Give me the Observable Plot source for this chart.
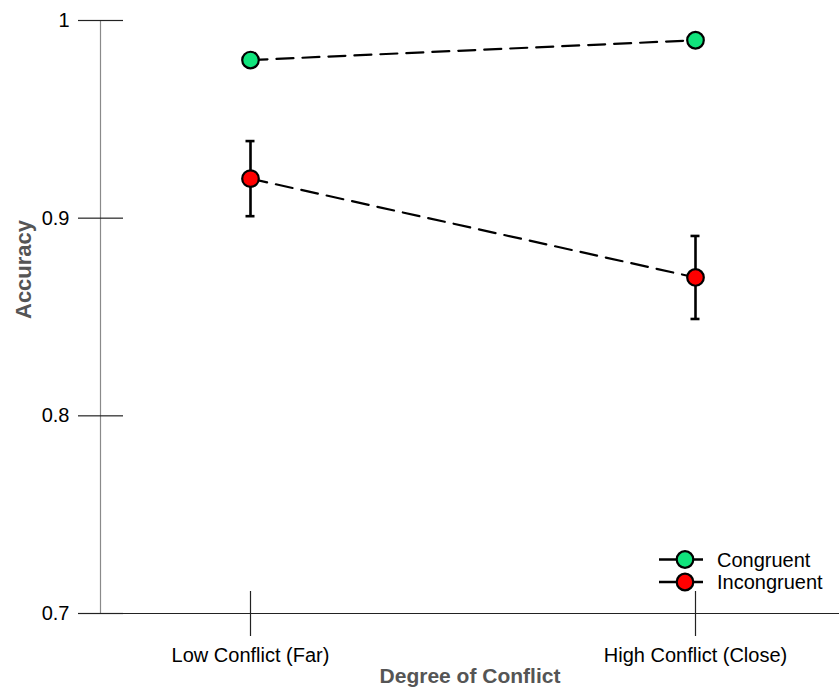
<!DOCTYPE html>
<html>
<head>
<meta charset="utf-8">
<script src="https://cdn.jsdelivr.net/npm/d3@7"></script>
<script src="https://cdn.jsdelivr.net/npm/@observablehq/plot@0.6"></script>
<style>
  html, body { margin: 0; padding: 0; background: #fff; }
  #chart { position: relative; width: 839px; height: 691px; }
</style>
</head>
<body>
<div id="chart"></div>
<script>
// ---- data ----
const categories = ["Low Conflict (Far)", "High Conflict (Close)"];
const series = ["Congruent", "Incongruent"];
const congruent = [0.98, 0.99];
const congruentLow = [0.98, 0.99];
const congruentHigh = [0.98, 0.99];
const incongruent = [0.92, 0.87];
const incongruentLow = [0.901, 0.849];
const incongruentHigh = [0.939, 0.891];
const yTicks = [0.7, 0.8, 0.9, 1];
const yDomain = [0.7, 1];
const colors = ["#10e47c", "#ff0000"];
const yLabel = "Accuracy";
const xLabel = "Degree of Conflict";

const values = [congruent, incongruent];
const lows = [congruentLow, incongruentLow];
const highs = [congruentHigh, incongruentHigh];

const rows = series.flatMap((s, si) => categories.map((c, ci) => ({
  series: s, category: c, value: values[si][ci], low: lows[si][ci], high: highs[si][ci]
})));
const errRows = rows.filter(d => d.high > d.low);

const font = "'Liberation Sans', Arial, Helvetica, sans-serif";

const plot = Plot.plot({
  width: 839,
  height: 691,
  marginLeft: 100,
  marginRight: 0,
  marginTop: 20,
  marginBottom: 78,
  style: { fontFamily: font, fontSize: "20px", color: "#000", background: "#fff", overflow: "visible" },
  x: { type: "point", domain: categories, range: [249.5, 695], padding: 0 },
  y: { domain: yDomain },
  color: { domain: series, range: colors },
  marks: [
    Plot.frame({ anchor: "left", stroke: "#8a8a8a", strokeWidth: 1.2 }),
    Plot.ruleY([yDomain[0]], { insetLeft: -22, stroke: "#222", strokeWidth: 1.2 }),
    Plot.axisY(yTicks, { tickSize: 22, tickPadding: 9, tickFormat: d3.format("~g"), fontSize: 20, label: null, stroke: "#222", strokeWidth: 1.2 }),
    Plot.axisY(yTicks, { tickSize: -23, tickFormat: () => "", label: null, stroke: "#222", strokeWidth: 1.2 }),
    Plot.axisX({ tickSize: 23, tickPadding: 11, fontSize: 20, label: null, stroke: "#222", strokeWidth: 1.2 }),
    Plot.axisX({ tickSize: -22, tickFormat: () => "", label: null, stroke: "#222", strokeWidth: 1.2 }),
    Plot.lineY(rows, { x: "category", y: "value", z: "series", stroke: "#000", strokeWidth: 2.2, strokeDasharray: "17,9" }),
    Plot.ruleX(errRows, { x: "category", y1: "low", y2: "high", stroke: "#000", strokeWidth: 2.6 }),
    Plot.ruleY(errRows, { y: "low", x1: "category", x2: "category", insetLeft: -4.5, insetRight: -4.5, stroke: "#000", strokeWidth: 2.6 }),
    Plot.ruleY(errRows, { y: "high", x1: "category", x2: "category", insetLeft: -4.5, insetRight: -4.5, stroke: "#000", strokeWidth: 2.6 }),
    Plot.dot(rows, { x: "category", y: "value", r: 8.3, fill: "series", stroke: "#000", strokeWidth: 2.2 }),
    Plot.text([yLabel], { text: d => d, frameAnchor: "left", rotate: -90, dx: -77, dy: 2, fontWeight: "bold", fill: "#555", fontSize: 22 }),
    Plot.text([xLabel], { text: d => d, frameAnchor: "bottom", dy: 69, fontWeight: "bold", fill: "#555", fontSize: 21 })
  ]
});

document.getElementById("chart").appendChild(plot);

// ---- legend (inside plot, bottom right) ----
const svg = d3.select(plot);
const lg = svg.append("g").attr("font-family", font).attr("font-size", 20).attr("text-anchor", "start");
series.forEach((s, i) => {
  const cy = 559.5 + i * 22.5;
  const g = lg.append("g");
  g.append("line").attr("x1", 659).attr("x2", 703).attr("y1", cy).attr("y2", cy)
    .attr("stroke", "#000").attr("stroke-width", 2.5);
  g.append("circle").attr("cx", 685).attr("cy", cy).attr("r", 8.3)
    .attr("fill", colors[i]).attr("stroke", "#000").attr("stroke-width", 2.2);
  g.append("text").attr("x", 717).attr("y", cy).attr("dy", "0.35em").attr("fill", "#000").text(s);
});
</script>
</body>
</html>
